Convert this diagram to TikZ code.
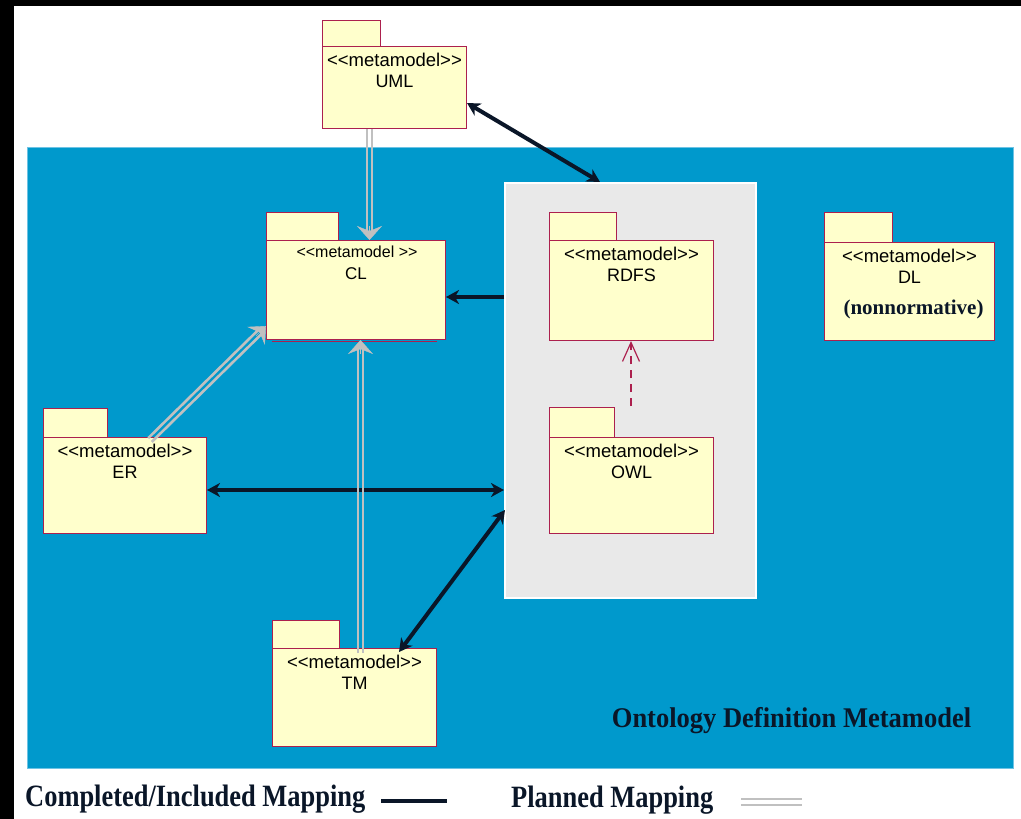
\documentclass[tikz,border=0pt]{standalone}
\usepackage{fontspec}
\setmainfont{Liberation Serif}
\setsansfont{Liberation Sans}
\usetikzlibrary{arrows.meta,calc}

\definecolor{odmblue}{RGB}{0,153,204}
\definecolor{odmedge}{RGB}{110,195,228}
\definecolor{pkgfill}{RGB}{255,255,204}
\definecolor{pkgborder}{RGB}{172,32,78}
\definecolor{navy}{RGB}{10,22,40}
\definecolor{plangray}{RGB}{192,192,192}
\definecolor{areagray}{RGB}{233,233,233}

\tikzset{
  pkgbox/.style={draw=pkgborder, fill=pkgfill, line width=1pt, inner sep=0pt},
  stereo/.style={font=\sffamily\fontsize{18.5}{20}\selectfont, text=black, inner sep=0pt},
  pkgname/.style={font=\sffamily\fontsize{18}{20}\selectfont, text=black, inner sep=0pt},
  boldlabel/.style={font=\bfseries, text=navy, inner sep=0pt},
  mapline/.style={draw=navy, line width=4pt},
  mapboth/.style={mapline, {Stealth[length=13pt,width=14pt,inset=4pt]}-{Stealth[length=13pt,width=14pt,inset=4pt]}},
  mapone/.style={mapline, -{Stealth[length=13pt,width=14pt,inset=4pt]}},
  planline/.style={draw=plangray, line width=2.6pt, shorten >=9pt},
  planhead/.style={draw=plangray, fill=plangray, line width=0.4pt, -{Stealth[length=14pt,width=25pt,inset=5pt]}},
  depend/.style={draw=pkgborder, line width=1.2pt, dash pattern=on 8pt off 6pt, -{Straight Barb[length=19pt,width=17pt]}},
}

% package: name, x, body top y, width, height, tab width, tab height, stereotype, label
\newcommand{\metapkg}[9]{%
  \draw[pkgbox] (#2,#3) rectangle ++(#6,-#7);
  \node[pkgbox, minimum width=#4, minimum height=#5, anchor=north west] (#1) at (#2,#3) {};
  \node[stereo] (#1-st) at ($(#1.north)+(0,14)$) {#8};
  \node[pkgname] (#1-nm) at ($(#1.north)+(0,35)$) {#9};
}

% planned mapping: two parallel grey lines ending in a grey arrow head
\newcommand{\plannedmap}[2]{%
  \draw[planline] ($(#1)!2.6pt!90:(#2)$) -- ($(#2)!2.6pt!-90:(#1)$);
  \draw[planline] ($(#1)!2.6pt!-90:(#2)$) -- ($(#2)!2.6pt!90:(#1)$);
  \draw[planhead] ($(#2)!14pt!(#1)$) -- (#2);
}

\begin{document}
\begin{tikzpicture}[x=1pt, y=-1pt]
\useasboundingbox (0,0) rectangle (1021,819);
\fill[white] (0,0) rectangle (1021,819);
\fill[black] (0,0) rectangle (1021,6);
\fill[black] (0,0) rectangle (14,819);

% ODM area
\filldraw[fill=odmblue, draw=odmedge, line width=0.8pt] (27,147) rectangle (1013,768);
\node[draw=white, fill=areagray, line width=2pt, minimum width=251, minimum height=415,
      inner sep=0pt, anchor=north west] (rdfsowl) at (504,182) {};

% packages
\metapkg{uml}{322}{46}{144}{82}{58}{26}{<{}<metamodel>{}>}{UML}
\draw[draw=pkgborder, line width=1pt] (272,341) -- (437,341);
\draw[pkgbox] (266,240) rectangle ++(72,-28);
\node[pkgbox, minimum width=179, minimum height=99, anchor=north west] (cl) at (266,240) {};
\node[stereo, font=\sffamily\fontsize{16}{18}\selectfont] (cl-st) at ($(cl.north)+(1,12)$) {<{}<metamodel >{}>};
\node[pkgname, font=\sffamily\fontsize{17}{18}\selectfont] (cl-nm) at ($(cl.north)+(0,34)$) {CL};
\metapkg{rdfs}{549}{240}{164}{100}{67}{28}{<{}<metamodel>{}>}{RDFS}
\metapkg{owl}{549}{437}{164}{96}{65}{30}{<{}<metamodel>{}>}{OWL}
\metapkg{er}{43}{437}{163}{96}{64}{29}{<{}<metamodel>{}>}{ER}
\metapkg{tm}{272}{648}{164}{98}{67}{28}{<{}<metamodel>{}>}{TM}
\metapkg{dl}{824}{242}{170}{98}{68}{30}{<{}<metamodel>{}>}{DL}
\node[boldlabel, font=\bfseries\fontsize{21}{23}\selectfont] (dl-note) at ($(dl.north)+(4,67)$) {(nonnormative)};

% completed / included mappings
\coordinate (umlR) at ($(uml.north east)+(0,57)$);
\coordinate (areaT) at ($(rdfsowl.north west)+(96,0)$);
\coordinate (areaL1) at ($(rdfsowl.north west)+(0,115)$);
\coordinate (clR) at ($(cl.north east)+(0,57)$);
\coordinate (erR) at ($(er.north east)+(0,53)$);
\coordinate (areaL2) at ($(rdfsowl.north west)+(0,308)$);
\coordinate (tmT) at ($(tm.north west)+(127,4)$);
\coordinate (areaL3) at ($(rdfsowl.north west)+(1,328)$);
\draw[mapboth] (umlR) -- (areaT);
\draw[mapone] (areaL1) -- (clR);
\draw[mapboth] (erR) -- (areaL2);
\draw[mapboth] (tmT) -- (areaL3);

% planned mappings
\coordinate (umlB) at ($(uml.south west)+(47.5,0)$);
\coordinate (clT) at ($(cl.north west)+(103.5,0)$);
\coordinate (erT) at ($(er.north west)+(107,3)$);
\coordinate (clL) at ($(cl.north west)+(0,86)$);
\coordinate (tmTop) at ($(tm.north west)+(88.5,5)$);
\coordinate (clB) at ($(cl.south west)+(94.5,0)$);
\plannedmap{umlB}{clT}
\plannedmap{erT}{clL}
\plannedmap{tmTop}{clB}

% OWL depends on RDFS
\coordinate (owlTop) at ($(owl.north west)+(82,-31)$);
\coordinate (rdfsB) at ($(rdfs.south west)+(82,0)$);
\draw[depend] (owlTop) -- (rdfsB);

% title of the area
\node[boldlabel, anchor=base, font=\bfseries\fontsize{28.5}{32}\selectfont] (odm) at (791.5,727.7)
  {\scalebox{0.93}[1]{Ontology Definition Metamodel}};

% legend
\node[boldlabel, anchor=base west, font=\bfseries\fontsize{31}{34}\selectfont] (lg1) at (25,806)
  {\scalebox{0.853}[1]{Completed/Included Mapping}};
\coordinate (lg1a) at (381,801);
\coordinate (lg1b) at (447,801);
\draw[mapline] (lg1a) -- (lg1b);
\node[boldlabel, anchor=base west, font=\bfseries\fontsize{31}{34}\selectfont] (lg2) at (511,807)
  {\scalebox{0.853}[1]{Planned Mapping}};
\coordinate (lg2a) at (741,799);
\coordinate (lg2b) at (802,799);
\coordinate (lg2c) at (741,805);
\coordinate (lg2d) at (802,805);
\draw[draw=plangray, line width=2.4pt] (lg2a) -- (lg2b);
\draw[draw=plangray, line width=2.4pt] (lg2c) -- (lg2d);
\end{tikzpicture}
\end{document}
